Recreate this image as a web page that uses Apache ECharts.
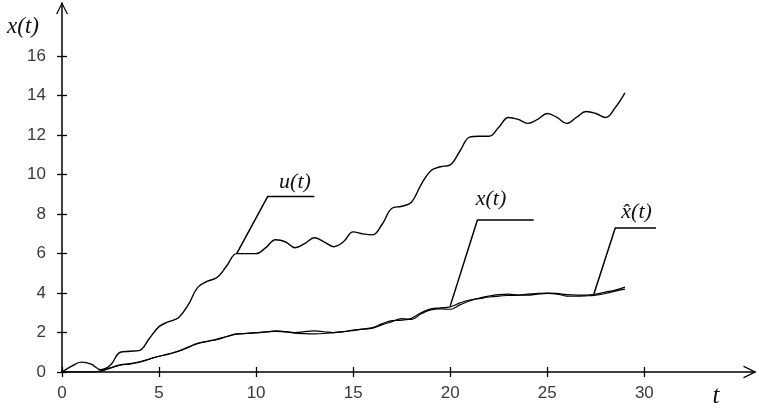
<!DOCTYPE html>
<html>
<head>
<meta charset="utf-8">
<script src="https://cdn.jsdelivr.net/npm/echarts@6/dist/echarts.min.js"></script>
<style>
  html, body { margin: 0; padding: 0; background: #fff; }
  #main { width: 759px; height: 408px; }
</style>
</head>
<body>
<div id="main"></div>
<script>
// time grid, step 0.5
const tValues = [];
for (let i = 0; i <= 58; i++) tValues.push(i / 2);

// u(t)
const uValues = [0, 0.3, 0.5, 0.4, 0.12, 0.35, 1.0, 1.05, 1.1, 1.7,
  2.3, 2.55, 2.75, 3.4, 4.3, 4.6, 4.8, 5.4, 6.0, 6.0,
  6.0, 6.3, 6.7, 6.6, 6.3, 6.5, 6.8, 6.6, 6.35, 6.6,
  7.1, 7.0, 6.95, 7.5, 8.3, 8.4, 8.6, 9.5, 10.2, 10.4,
  10.5, 11.2, 11.9, 11.95, 11.95, 12.4, 12.9, 12.8, 12.6, 12.8,
  13.1, 12.9, 12.6, 12.9, 13.2, 13.1, 12.9, 13.4, 14.15];

// x(t)
const xValues = [0, 0, 0, 0, 0.05, 0.2, 0.35, 0.4, 0.5, 0.65,
  0.8, 0.9, 1.05, 1.25, 1.45, 1.55, 1.65, 1.8, 1.93, 1.95,
  1.98, 2.02, 2.08, 2.05, 1.97, 1.94, 1.93, 1.95, 2.0, 2.05,
  2.12, 2.18, 2.25, 2.45, 2.6, 2.63, 2.72, 3.0, 3.2, 3.25,
  3.3, 3.5, 3.65, 3.72, 3.8, 3.85, 3.88, 3.9, 3.95, 3.98,
  4.0, 3.98, 3.92, 3.9, 3.9, 3.95, 4.05, 4.15, 4.3];

// x^(t), estimate
const xhatValues = [0, 0, 0, 0, 0.05, 0.22, 0.36, 0.42, 0.52, 0.66,
  0.8, 0.92, 1.06, 1.26, 1.45, 1.56, 1.67, 1.8, 1.92, 1.96,
  2.0, 2.04, 2.06, 2.03, 2.0, 2.05, 2.08, 2.04, 2.0, 2.04,
  2.1, 2.17, 2.22, 2.4, 2.55, 2.7, 2.66, 2.95, 3.15, 3.2,
  3.18, 3.4, 3.6, 3.75, 3.85, 3.92, 3.95, 3.9, 3.9, 3.95,
  3.98, 3.95, 3.85, 3.84, 3.86, 3.9, 3.98, 4.1, 4.2];

const xTicks = [0, 5, 10, 15, 20, 25, 30];
const yTicks = [0, 2, 4, 6, 8, 10, 12, 14, 16];

// leader lines [t, value] and label anchors
const uLeader = [[9.0, 6.0], [10.6, 8.9], [13.0, 8.9]];
const xLeader = [[20.0, 3.35], [21.4, 7.7], [24.3, 7.7]];
const xhatLeader = [[27.4, 3.95], [28.5, 7.3], [30.6, 7.3]];
const curveLabels = [
  { text: 'u(t)', at: [12.0, 9.6] },
  { text: 'x(t)', at: [22.1, 8.75] },
  { text: 'x\u0302(t)', at: [29.6, 8.1] }
];

const pairs = (vals) => tValues.map((t, i) => [t, vals[i]]);

const chart = echarts.init(document.getElementById('main'));

const arrowPath = 'path://M0,12 L6,0 L12,12 L10.6,12 L6,2.6 L1.4,12 Z';
const axisColor = '#000';
const labelStyle = { color: '#3a3a3a', fontSize: 17, fontFamily: 'Liberation Sans, Arial, sans-serif' };

const lineSeries = (vals, w) => ({
  type: 'line',
  data: pairs(vals),
  smooth: 0.4,
  symbol: 'none',
  lineStyle: { color: '#000', width: w },
  z: 3
});
const leaderSeries = (pts) => ({
  type: 'line',
  data: pts,
  symbol: 'none',
  lineStyle: { color: '#000', width: 1.5 },
  z: 4
});

chart.setOption({
  backgroundColor: '#fff',
  animation: false,
  grid: { left: 62, right: 4, top: 3, bottom: 36 },
  xAxis: [{
    type: 'value', min: 0, max: 35.7,
    axisLine: { onZero: false, lineStyle: { color: axisColor, width: 1.5 }, symbol: ['none', arrowPath], symbolSize: [13, 14], symbolOffset: [0, -5] },
    axisTick: { customValues: xTicks, length: 5, lineStyle: { color: axisColor, width: 1.3 } },
    axisLabel: Object.assign({ customValues: xTicks, margin: 13 }, labelStyle),
    splitLine: { show: false }
  }, {
    type: 'value', min: 0, max: 35.7, position: 'bottom',
    axisLine: { show: false },
    axisTick: { inside: true, customValues: xTicks, length: 5, lineStyle: { color: axisColor, width: 1.3 } },
    axisLabel: { show: false },
    splitLine: { show: false }
  }],
  yAxis: [{
    type: 'value', min: 0, max: 18.7,
    axisLine: { show: true, onZero: false, lineStyle: { color: axisColor, width: 1.5 }, symbol: ['none', arrowPath], symbolSize: [12, 12], symbolOffset: [0, -5] },
    axisTick: { show: true, customValues: yTicks, length: 5, lineStyle: { color: axisColor, width: 1.3 } },
    axisLabel: Object.assign({ customValues: yTicks, margin: 16 }, labelStyle),
    splitLine: { show: false }
  }, {
    type: 'value', min: 0, max: 18.7, position: 'left',
    axisLine: { show: false },
    axisTick: { show: true, inside: true, customValues: yTicks, length: 5, lineStyle: { color: axisColor, width: 1.3 } },
    axisLabel: { show: false },
    splitLine: { show: false }
  }],
  series: [
    lineSeries(uValues, 1.4),
    lineSeries(xValues, 1.2),
    lineSeries(xhatValues, 1.2),
    leaderSeries(uLeader),
    leaderSeries(xLeader),
    leaderSeries(xhatLeader)
  ]
});

const serif = 'Liberation Serif, DejaVu Serif, serif';
const graphics = curveLabels.map((c) => {
  const p = chart.convertToPixel({ gridIndex: 0 }, c.at);
  return {
    type: 'text', x: p[0], y: p[1],
    style: { text: c.text, font: 'italic 22px ' + serif, fill: '#111', align: 'center', verticalAlign: 'middle' }
  };
});
graphics.push({
  type: 'text', x: 23, y: 27,
  style: { text: 'x(t)', font: 'italic 23px ' + serif, fill: '#111', align: 'center', verticalAlign: 'middle' }
});
graphics.push({
  type: 'text', x: 716, y: 396,
  style: { text: 't', font: 'italic 25px ' + serif, fill: '#111', align: 'center', verticalAlign: 'middle' }
});
chart.setOption({ graphic: graphics });
</script>
</body>
</html>
